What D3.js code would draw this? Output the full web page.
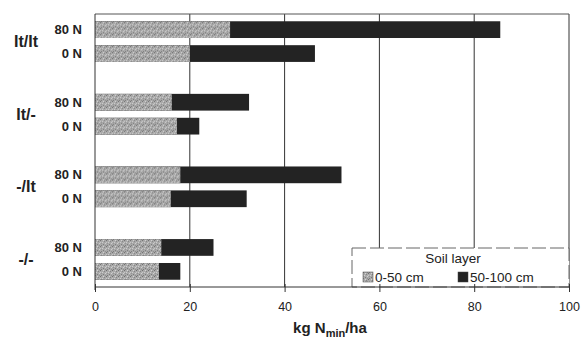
<!DOCTYPE html>
<html>
<head>
<meta charset="utf-8">
<script src="https://cdn.jsdelivr.net/npm/d3@7"></script>
<style>
body { margin: 0; background: #fff; }
svg { display: block; }
</style>
</head>
<body>
<script>
// treatments (top to bottom) and N levels
var groups = ["It/It", "It/-", "-/It", "-/-"];
var levels = ["80 N", "0 N"];
// kg Nmin/ha in 0-50 cm, per group, per level
var top50 = [[28.5, 20], [16.2, 17.3], [18, 16], [14, 13.5]];
// kg Nmin/ha in 50-100 cm
var deep50 = [[57, 26.4], [16.3, 4.7], [34, 16], [11, 4.5]];
var ticks = [0, 20, 40, 60, 80, 100];
var layers = ["0-50 cm", "50-100 cm"];

var W = 583, H = 341;
var margin = {top: 14, right: 14, bottom: 54, left: 95},
    width = 569 - margin.left,
    height = 287 - margin.top;

var svg = d3.select("body").append("svg")
    .attr("width", W)
    .attr("height", H);

// mottled grey fill for the upper soil layer
var defs = svg.append("defs");
var pat = defs.append("pattern")
    .attr("id", "mottle")
    .attr("patternUnits", "userSpaceOnUse")
    .attr("width", 6).attr("height", 6);
pat.append("rect").attr("width", 6).attr("height", 6).attr("fill", "#a9a9a9");
[[0,0,"#7c7c7c"],[2,1,"#d4d4d4"],[4,0,"#8e8e8e"],[1,3,"#cfcfcf"],[3,2,"#858585"],
 [5,3,"#c8c8c8"],[0,4,"#939393"],[2,5,"#7a7a7a"],[4,4,"#d0d0d0"],[5,1,"#6f6f6f"]].forEach(function(p) {
    pat.append("rect").attr("x", p[0]).attr("y", p[1]).attr("width", 1).attr("height", 1).attr("fill", p[2]);
});

var g = svg.append("g")
    .attr("transform", "translate(" + margin.left + "," + margin.top + ")");

var x = d3.scaleLinear().domain([0, 100]).range([0, width]);

var y = d3.scaleBand()
    .domain(groups)
    .range([0, height])
    .paddingInner(0.44)
    .paddingOuter(0.1);

var yIn = d3.scaleBand()
    .domain(levels)
    .range([0, y.bandwidth()])
    .paddingInner(0.3);

// gridlines
g.append("g")
    .attr("class", "grid")
    .selectAll("line")
    .data(ticks.slice(1))
    .enter().append("line")
    .attr("x1", function(d) { return x(d); })
    .attr("x2", function(d) { return x(d); })
    .attr("y1", 0)
    .attr("y2", height)
    .attr("stroke", "#333")
    .attr("stroke-width", 1);

// top frame
g.append("line")
    .attr("x1", 0).attr("x2", width)
    .attr("y1", 0).attr("y2", 0)
    .attr("stroke", "#555").attr("stroke-width", 1);

// bars
var rows = [];
groups.forEach(function(grp, i) {
    levels.forEach(function(lv, j) {
        rows.push({group: grp, level: lv, a: top50[i][j], b: deep50[i][j]});
    });
});

var row = g.selectAll(".row")
    .data(rows)
    .enter().append("g")
    .attr("class", "row")
    .attr("transform", function(d) { return "translate(0," + (y(d.group) + yIn(d.level)) + ")"; });

row.append("rect")
    .attr("x", x(0))
    .attr("width", function(d) { return x(d.a + d.b) - x(0); })
    .attr("height", yIn.bandwidth())
    .attr("fill", "#232323");

row.append("rect")
    .attr("x", x(0))
    .attr("width", function(d) { return x(d.a) - x(0); })
    .attr("height", yIn.bandwidth())
    .attr("fill", "url(#mottle)");

row.append("text")
    .attr("x", -13)
    .attr("y", yIn.bandwidth() / 2)
    .attr("dy", "0.35em")
    .attr("text-anchor", "end")
    .style("font-family", "'Liberation Sans', Arial, sans-serif")
    .style("font-weight", "bold")
    .style("font-size", "13px")
    .attr("fill", "#222")
    .text(function(d) { return d.level; });

// group labels
g.selectAll(".glabel")
    .data(groups)
    .enter().append("text")
    .attr("class", "glabel")
    .attr("x", -69)
    .attr("y", function(d) { return y(d) + y.bandwidth() / 2; })
    .attr("dy", "0.35em")
    .attr("text-anchor", "middle")
    .style("font-family", "'Liberation Sans', Arial, sans-serif")
    .style("font-weight", "bold")
    .style("font-size", "16px")
    .attr("fill", "#222")
    .text(function(d) { return d; });

// left axis line
g.append("line")
    .attr("x1", 0).attr("x2", 0)
    .attr("y1", 0).attr("y2", height + 3)
    .attr("stroke", "#333");

// legend
var leg = g.append("g")
    .attr("transform", "translate(" + (352 - margin.left) + "," + (248 - margin.top) + ")");
leg.append("rect")
    .attr("width", 569 - 352)
    .attr("height", height - (248 - margin.top))
    .attr("fill", "#fff")
    .attr("stroke", "#666")
    .attr("stroke-dasharray", "14,4");
leg.append("text")
    .attr("x", 101)
    .attr("y", 15)
    .attr("text-anchor", "middle")
    .style("font-family", "'Liberation Sans', Arial, sans-serif")
    .style("font-size", "13.5px")
    .attr("fill", "#222")
    .text("Soil layer");
var li = leg.selectAll(".li")
    .data(layers)
    .enter().append("g")
    .attr("class", "li")
    .attr("transform", function(d, i) { return "translate(" + (11 + i * 95) + ",24)"; });
li.append("rect")
    .attr("width", 10).attr("height", 10)
    .attr("fill", function(d, i) { return i === 0 ? "url(#mottle)" : "#232323"; })
    .attr("stroke", "#444").attr("stroke-width", 0.5);
li.append("text")
    .attr("x", 12)
    .attr("y", 10)
    .style("font-family", "'Liberation Sans', Arial, sans-serif")
    .style("font-size", "13.5px")
    .attr("fill", "#222")
    .text(function(d) { return d; });

// x axis
var xAxis = d3.axisBottom(x)
    .tickValues(ticks)
    .tickSize(5)
    .tickPadding(10);
var ax = g.append("g")
    .attr("transform", "translate(0," + height + ")")
    .call(xAxis);
ax.select(".domain").attr("stroke", "#333").attr("d", "M0,0H" + width);
ax.selectAll(".tick line").attr("stroke", "#333").attr("y1", -3);
ax.selectAll(".tick text")
    .style("font-family", "'Liberation Sans', Arial, sans-serif")
    .style("font-size", "12.5px")
    .attr("fill", "#222");

// x title
var t = svg.append("text")
    .attr("x", 330)
    .attr("y", 333)
    .attr("text-anchor", "middle")
    .style("font-family", "'Liberation Sans', Arial, sans-serif")
    .style("font-weight", "bold")
    .style("font-size", "15px")
    .attr("fill", "#222");
t.append("tspan").text("kg N");
t.append("tspan").attr("dy", 4).style("font-size", "11px").text("min");
t.append("tspan").attr("dy", -4).text("/ha");
</script>
</body>
</html>
